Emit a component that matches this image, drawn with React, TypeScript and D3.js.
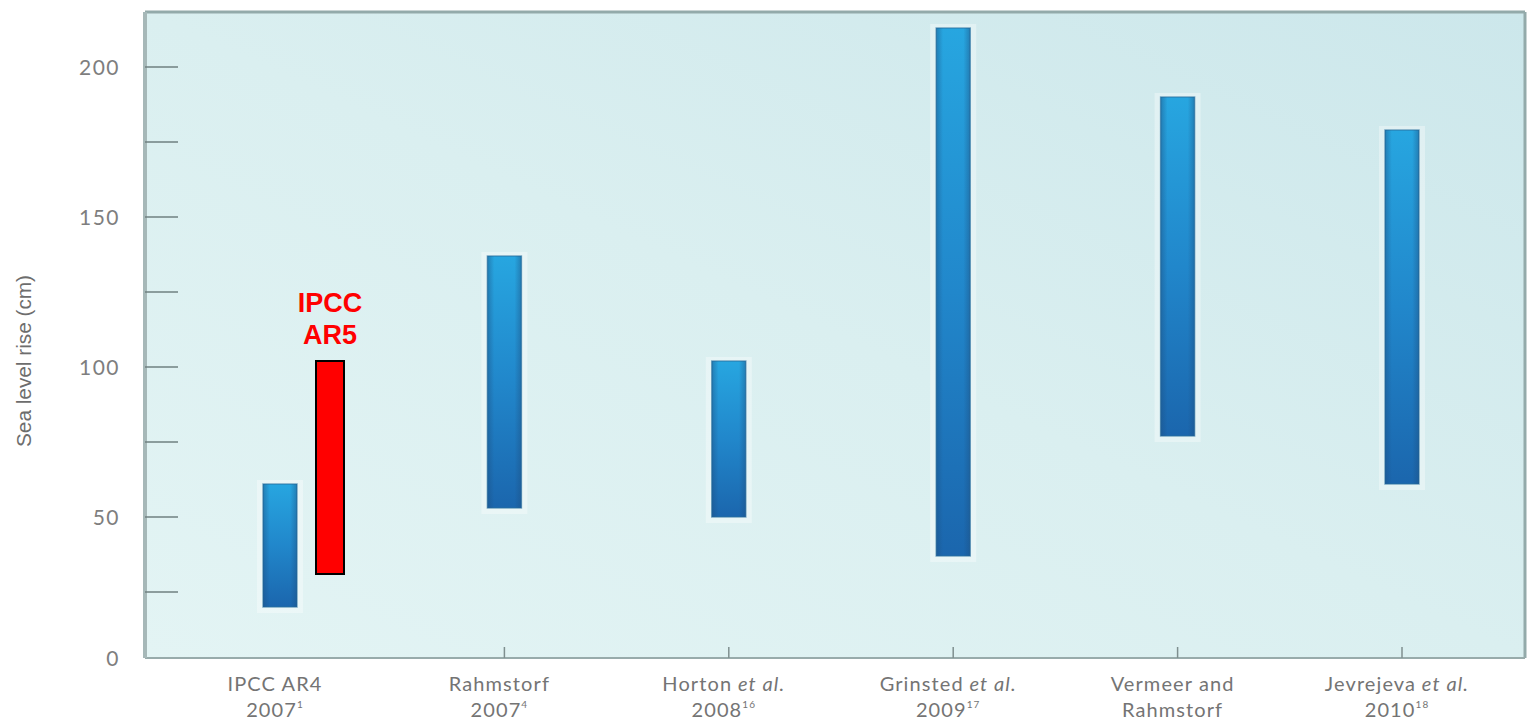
import { useRef, useEffect } from "react";
import * as d3 from "d3";

const categories = [
  ["IPCC AR4", "2007"],
  ["Rahmstorf", "2007"],
  ["Horton et al.", "2008"],
  ["Grinsted et al.", "2009"],
  ["Vermeer and", "Rahmstorf"],
  ["Jevrejeva et al.", "2010"],
];
const footnotes = ["1", "4", "16", "17", "", "18"];
const lowValues = [20, 53, 50, 37, 77, 61];
const highValues = [61, 137, 102, 213, 190, 179];
const ar5Range = [31, 102];
const yTicks = [0, 25, 50, 75, 100, 125, 150, 175, 200];

function SeaLevelChart() {
  const svgRef = useRef<SVGSVGElement>(null);

  useEffect(() => {
    drawChart();
  }, []);

  function drawChart() {
    if (!svgRef.current) return;
    const svg = d3.select(svgRef.current);
    svg.selectAll("*").remove();

    const left = 145;
    const right = 1525;
    const top = 12;
    const bottom = 658;

    const y = d3.scaleLinear().domain([0, 200]).range([667, 67]);
    const x = d3
      .scalePoint()
      .domain(categories.map((c) => c[0]))
      .range([280, 1402]);

    const defs = svg.append("defs");
    const bg = defs
      .append("linearGradient")
      .attr("id", "bg")
      .attr("x1", "0")
      .attr("y1", "1")
      .attr("x2", "1")
      .attr("y2", "0");
    bg.append("stop").attr("offset", "0").attr("stop-color", "#e3f4f4");
    bg.append("stop").attr("offset", "0.5").attr("stop-color", "#daeff0");
    bg.append("stop").attr("offset", "1").attr("stop-color", "#cce7eb");

    const bar = defs
      .append("linearGradient")
      .attr("id", "bar")
      .attr("x1", "0")
      .attr("y1", "0")
      .attr("x2", "0")
      .attr("y2", "1");
    bar.append("stop").attr("offset", "0").attr("stop-color", "#27a6e0");
    bar.append("stop").attr("offset", "0.5").attr("stop-color", "#2187cb");
    bar.append("stop").attr("offset", "1").attr("stop-color", "#1b66ad");

    const side = defs
      .append("linearGradient")
      .attr("id", "side")
      .attr("x1", "0")
      .attr("y1", "0")
      .attr("x2", "1")
      .attr("y2", "0");
    side.append("stop").attr("offset", "0").attr("stop-color", "#1d4f80").attr("stop-opacity", 0.45);
    side.append("stop").attr("offset", "0.2").attr("stop-color", "#1d4f80").attr("stop-opacity", 0);
    side.append("stop").attr("offset", "0.8").attr("stop-color", "#1d4f80").attr("stop-opacity", 0);
    side.append("stop").attr("offset", "1").attr("stop-color", "#1d4f80").attr("stop-opacity", 0.45);

    // plot background
    svg
      .append("rect")
      .attr("x", left)
      .attr("y", top)
      .attr("width", right - left)
      .attr("height", bottom - top)
      .attr("fill", "url(#bg)");

    // frame
    svg
      .append("line")
      .attr("x1", left)
      .attr("x2", right)
      .attr("y1", top)
      .attr("y2", top)
      .attr("stroke", "#93aaaa")
      .attr("stroke-width", 3);
    svg
      .append("line")
      .attr("x1", right)
      .attr("x2", right)
      .attr("y1", top)
      .attr("y2", bottom)
      .attr("stroke", "#93aaaa")
      .attr("stroke-width", 3);
    svg
      .append("line")
      .attr("x1", left)
      .attr("x2", right)
      .attr("y1", bottom)
      .attr("y2", bottom)
      .attr("stroke", "#98abab")
      .attr("stroke-width", 2);
    svg
      .append("line")
      .attr("x1", left)
      .attr("x2", left)
      .attr("y1", top)
      .attr("y2", bottom)
      .attr("stroke", "#a6b8b8")
      .attr("stroke-width", 4);

    // y ticks
    svg
      .selectAll(".ytick")
      .data(yTicks.filter((t) => t > 0))
      .join("line")
      .attr("x1", left)
      .attr("x2", left + 33)
      .attr("y1", (d) => y(d))
      .attr("y2", (d) => y(d))
      .attr("stroke", "#6f8080")
      .attr("stroke-width", 1.5);

    svg
      .selectAll(".ylab")
      .data(yTicks.filter((t) => t % 50 === 0))
      .join("text")
      .attr("x", 120)
      .attr("y", (d) => (d === 0 ? bottom : y(d)))
      .attr("dy", "0.36em")
      .attr("text-anchor", "end")
      .attr("font-family", "Lato, sans-serif")
      .attr("font-size", 21)
      .attr("letter-spacing", 1.5)
      .attr("fill", "#7e7e7e")
      .text((d) => d);

    // axis title is squeezed in the original, so stretch it to the same length
    svg
      .append("text")
      .attr("transform", `translate(31, 361) rotate(-90)`)
      .attr("text-anchor", "middle")
      .attr("font-family", "Liberation Sans, sans-serif")
      .attr("font-size", 21)
      .attr("textLength", 172)
      .attr("lengthAdjust", "spacingAndGlyphs")
      .attr("fill", "#6d6d6d")
      .text("Sea level rise  (cm)");

    // x ticks
    svg
      .selectAll(".xtick")
      .data(categories.slice(1))
      .join("line")
      .attr("x1", (d) => x(d[0])!)
      .attr("x2", (d) => x(d[0])!)
      .attr("y1", bottom - 11)
      .attr("y2", bottom)
      .attr("stroke", "#7f8f8f")
      .attr("stroke-width", 1.5);

    // x labels
    const labels = svg
      .selectAll(".xlab")
      .data(categories)
      .join("g")
      .attr("transform", (d) => `translate(${x(d[0])! - 5}, 0)`);
    labels.each(function (d, i) {
      const g = d3.select(this);
      const t1 = g
        .append("text")
        .attr("y", 691)
        .attr("text-anchor", "middle")
        .attr("font-family", "Lato, sans-serif")
        .attr("font-size", 20)
        .attr("letter-spacing", 1.1)
        .attr("fill", "#747474");
      const words = d[0].split(" et al.");
      t1.append("tspan").text(words[0]);
      if (d[0].includes(" et al.")) {
        t1.append("tspan").attr("font-style", "italic").text(" et al.");
      }
      const t2 = g
        .append("text")
        .attr("y", 717)
        .attr("text-anchor", "middle")
        .attr("font-family", "Lato, sans-serif")
        .attr("font-size", 20)
        .attr("letter-spacing", 1.1)
        .attr("fill", "#747474");
      t2.append("tspan").text(d[1]);
      if (footnotes[i]) {
        t2.append("tspan")
          .attr("dy", -9)
          .attr("font-size", 10)
          .text(footnotes[i]);
      }
    });

    const barW = 34;

    // soft halo
    svg
      .selectAll(".halo")
      .data(categories)
      .join("rect")
      .attr("x", (d) => x(d[0])! - barW / 2 - 6)
      .attr("y", (d, i) => y(highValues[i]) - 4)
      .attr("width", barW + 12)
      .attr("height", (d, i) => y(lowValues[i]) - y(highValues[i]) + 10)
      .attr("fill", "#ffffff")
      .attr("opacity", 0.35);

    svg
      .selectAll(".bar")
      .data(categories)
      .join("rect")
      .attr("x", (d) => x(d[0])! - barW / 2)
      .attr("y", (d, i) => y(highValues[i]))
      .attr("width", barW)
      .attr("height", (d, i) => y(lowValues[i]) - y(highValues[i]))
      .attr("fill", "url(#bar)")
      .attr("stroke", "#2a6f9f")
      .attr("stroke-opacity", 0.6)
      .attr("stroke-width", 1.5);

    svg
      .selectAll(".barside")
      .data(categories)
      .join("rect")
      .attr("x", (d) => x(d[0])! - barW / 2)
      .attr("y", (d, i) => y(highValues[i]))
      .attr("width", barW)
      .attr("height", (d, i) => y(lowValues[i]) - y(highValues[i]))
      .attr("fill", "url(#side)");

    // IPCC AR5 overlay
    const ar5X = x(categories[0][0])! + 50;
    svg
      .append("rect")
      .attr("x", ar5X - 14)
      .attr("y", y(ar5Range[1]))
      .attr("width", 28)
      .attr("height", y(ar5Range[0]) - y(ar5Range[1]))
      .attr("fill", "#ff0000")
      .attr("stroke", "#000000")
      .attr("stroke-width", 2);

    svg
      .selectAll(".ar5")
      .data(["IPCC", "AR5"])
      .join("text")
      .attr("x", ar5X)
      .attr("y", (d, i) => 312 + i * 32)
      .attr("text-anchor", "middle")
      .attr("font-family", "Liberation Sans, Arial, sans-serif")
      .attr("font-weight", "bold")
      .attr("font-size", 27)
      .attr("fill", "#ff0000")
      .text((d) => d);
  }

  return (
    <svg
      ref={svgRef}
      width={1529}
      height={724}
      style={{ position: "absolute", top: 0, left: 0, background: "#ffffff" }}
    />
  );
}

export default function App() {
  return <SeaLevelChart />;
}
